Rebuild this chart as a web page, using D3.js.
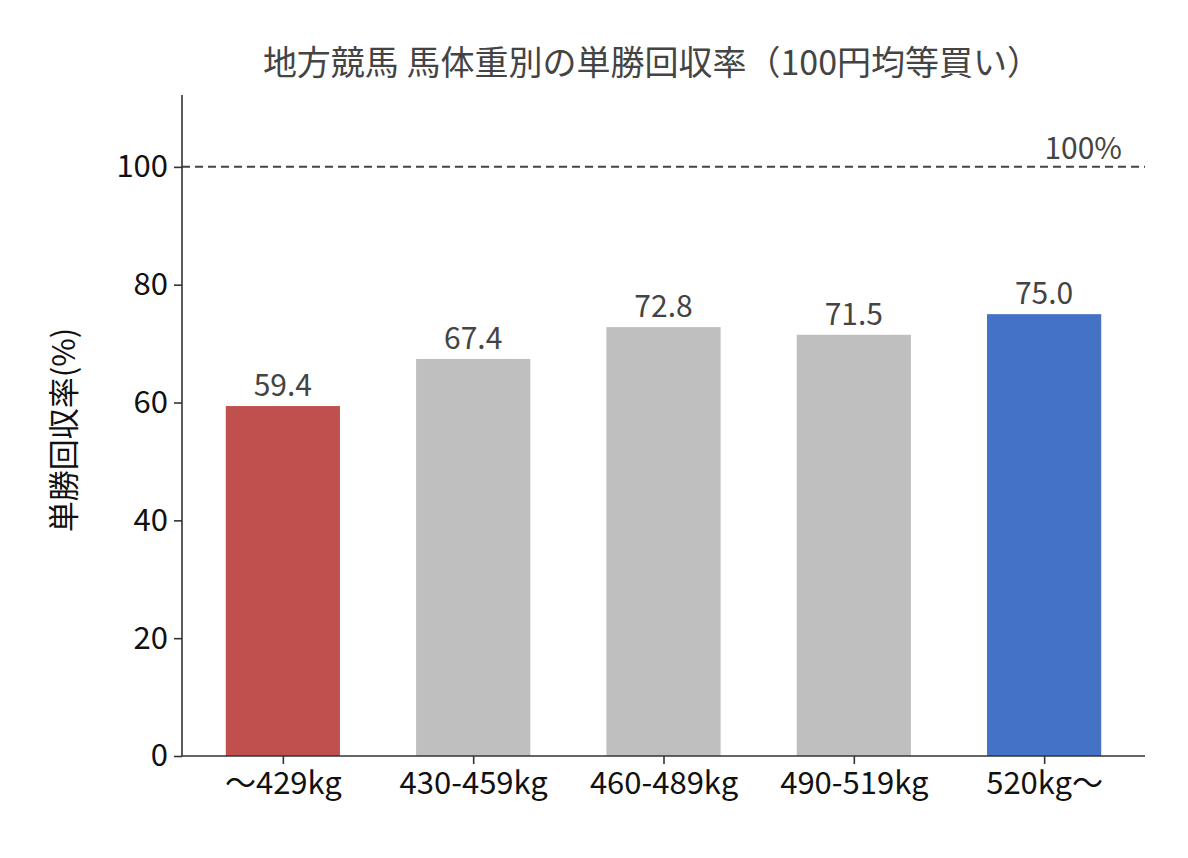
<!DOCTYPE html><html><head><meta charset="utf-8">
<script src="https://cdn.jsdelivr.net/npm/d3@7/dist/d3.min.js"></script>
<style>body{margin:0;background:#fff}text{font-family:"Noto Sans CJK JP","Noto Sans",sans-serif}</style></head><body>
<svg id="c" width="1188" height="858"></svg>
<script>
const categories=["～429kg","430-459kg","460-489kg","490-519kg","520kg～"];
const values=[59.4,67.4,72.8,71.5,75.0];
const colors=["#C0504D","#BFBFBF","#BFBFBF","#BFBFBF","#4472C4"];
const yTicks=[0,20,40,60,80,100];
const svg=d3.select("#c");
const L=182,R=1145,T=95,B=756;
const x=d3.scaleLinear().domain([-0.53,4.53]).range([L,R]);
const y=d3.scaleLinear().domain([0,112.2]).range([B,T]);
const bw=x(0.6)-x(0);
svg.selectAll("rect").data(values).join("rect")
 .attr("x",(d,i)=>x(i)-bw/2).attr("width",bw).attr("y",d=>y(d)).attr("height",d=>B-y(d)).attr("fill",(d,i)=>colors[i]);
svg.selectAll(".v").data(values).join("text").attr("x",(d,i)=>x(i)).attr("y",d=>y(d)-10)
 .attr("text-anchor","middle").attr("font-size",30).attr("fill","#444").text(d=>d.toFixed(1));
svg.append("line").attr("x1",L).attr("x2",R).attr("y1",y(100)).attr("y2",y(100)).attr("stroke","#444").attr("stroke-width",2).attr("stroke-dasharray","8,5");
svg.append("text").attr("x",1122).attr("y",y(100)-8).attr("text-anchor","end").attr("font-size",30).attr("fill","#444").text("100%");
const ya=svg.append("g").attr("transform",`translate(${L},0)`).call(d3.axisLeft(y).tickValues(yTicks).tickSize(8).tickPadding(6));
const xa=svg.append("g").attr("transform",`translate(0,${B})`).call(d3.axisBottom(x).tickValues([0,1,2,3,4]).tickFormat(i=>categories[i]).tickSize(8).tickPadding(8));
[ya,xa].forEach(a=>{a.selectAll("text").attr("font-size",31).attr("fill","#111");a.selectAll("path,line").attr("stroke","#333").attr("stroke-width",1.6);});
ya.select("path").attr("d",`M0,${T}V${B}`);
xa.select("path").attr("d",`M${L},0H${R}`);
svg.append("text").attr("transform","translate(75,430) rotate(-90)").attr("text-anchor","middle").attr("font-size",31).attr("fill","#111").text("単勝回収率(%)");
svg.append("text").attr("x",652).attr("y",75).attr("text-anchor","middle").attr("font-size",34).attr("fill","#444").text("地方競馬 馬体重別の単勝回収率（100円均等買い）");
</script></body></html>
